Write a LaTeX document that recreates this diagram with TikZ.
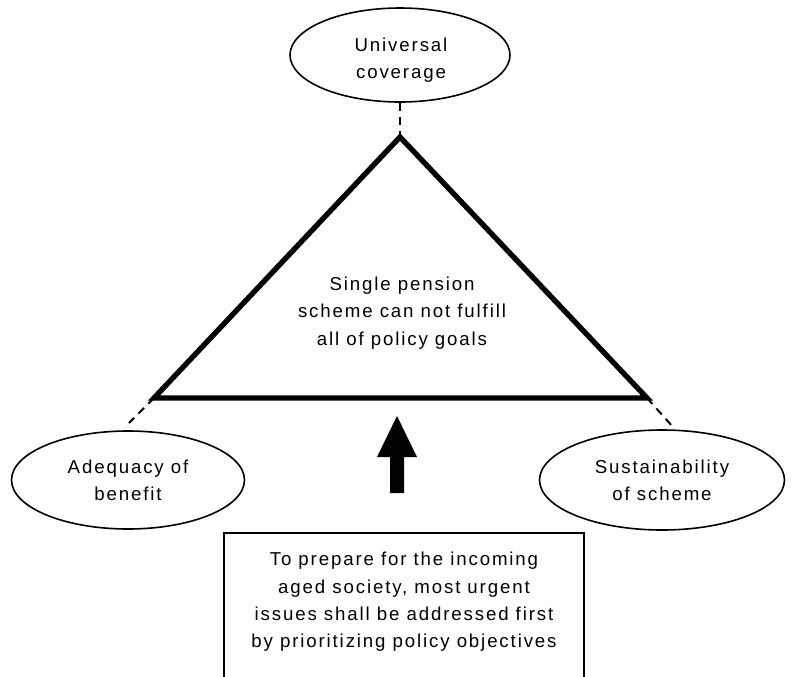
\documentclass[tikz,border=0pt]{standalone}
\usepackage{fontspec}
\setmainfont{Liberation Sans}[LetterSpace=10]
\usetikzlibrary{shapes.geometric}
\begin{document}
\begin{tikzpicture}[x=0.75pt,y=-0.75pt,
  goal/.style={draw,ellipse,line width=1.2pt,inner sep=0pt,align=center,
    font=\fontsize{14}{20.5}\selectfont},
  label/.style={align=center,inner sep=0pt,font=\fontsize{14}{20.5}\selectfont},
  link/.style={dashed,line width=1.5pt,dash pattern=on 6pt off 4.5pt},
  tri/.style={line width=4pt,line join=miter}]
\useasboundingbox (0,0) rectangle (794,676);

% the three policy goals
\node[goal,minimum width=165pt,minimum height=70.5pt] (cov) at (400,55) {};
\node[label] (covt) at (401,60) {Universal\\coverage};
\node[goal,minimum width=174.75pt,minimum height=73.5pt] (ade) at (128,480) {Adequacy of\\benefit};
\node[goal,minimum width=183.75pt,minimum height=75pt] (sus) at (662,480) {Sustainability\\of scheme};

% triangle of goals
\coordinate (apex) at (400,137);
\coordinate (bl) at (154,398);
\coordinate (br) at (647,398);
\draw[tri] (apex) -- (bl) -- (br) -- cycle;
\node[label] (core) at (402,313) {Single pension\\scheme can not fulfill\\all of policy goals};

% dashed links from goals to corners
\coordinate (ladd) at (129,423);
\coordinate (radd) at (673,427);
\draw[link] (cov.south) -- (apex);
\draw[link] (bl) -- (ladd);
\draw[link] (br) -- (radd);

% bottom box, open below
\coordinate (boxtl) at (224,533);
\coordinate (boxtr) at (584,533);
\draw[line width=1pt] (224,680) -- (boxtl) -- (boxtr) -- (584,680);
\node[label] (prio) at (404,602) {To prepare for the incoming\\aged society, most urgent\\issues shall be addressed first\\by prioritizing policy objectives};

% upward arrow
\fill (397,416) -- (417,457) -- (404,457) -- (404,493) -- (390,493) -- (390,457) -- (377,457) -- cycle;
\end{tikzpicture}
\end{document}
